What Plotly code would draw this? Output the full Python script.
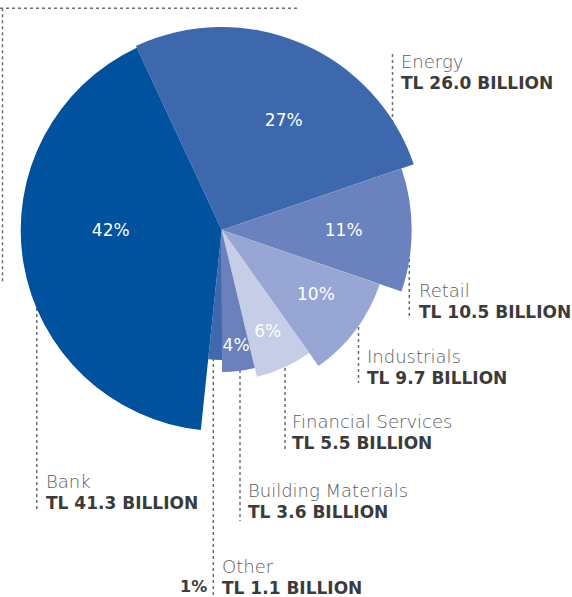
import plotly.graph_objects as go

# ---- data ----
sectors = ["Energy", "Retail", "Industrials", "Financial Services",
           "Building Materials", "Other", "Bank"]
amounts_tl_bn = [26.0, 10.5, 9.7, 5.5, 3.6, 1.1, 41.3]
pct_labels = ["27%", "11%", "10%", "6%", "4%", "1%", "42%"]
slice_share = [26.7, 10.5, 9.9, 6.1, 3.7, 1.7, 41.4]      # angular share (%)
slice_radius = [203, 190, 167, 151, 142, 130, 201]        # relative radius

colors = ["#3e68ae", "#6a82bd", "#97a6d3", "#c5cde7", "#6b81bc", "#3f68ad", "#00529f"]

W, H = 572, 597
CX, CY, R = 221.7, 230, 205
START = 335.0
FONT = "DejaVu Sans"

# slice geometry from shares
widths = [s / 100 * 360 for s in slice_share]
centers = []
acc = START
for w in widths:
    centers.append((acc + w / 2) % 360)
    acc += w

fig = go.Figure()
fig.add_trace(go.Barpolar(
    r=slice_radius, theta=centers, width=widths,
    marker=dict(color=colors, line=dict(width=0)),
    hoverinfo="skip", showlegend=False,
))

# percentage labels inside slices (index 5 'Other' is drawn outside)
lab_idx = [0, 1, 2, 3, 4, 6]
lab_r = [124.5, 122, 115, 113, 118, 111]
lab_t = [29.9, 91, 125, 156, 173, 269]
fig.add_trace(go.Scatterpolar(
    r=lab_r, theta=lab_t, mode="text",
    text=[pct_labels[i] for i in lab_idx],
    textfont=dict(family=FONT, size=17, color="white", weight=500),
    hoverinfo="skip", showlegend=False,
))

def px(x):
    return x / W

def py(y):
    return 1 - y / H

annotations = []
# label positions (pixel): x, y-center of name line
label_pos = {
    "Energy": (399, 61.5),
    "Retail": (417, 290),
    "Industrials": (365, 356),
    "Financial Services": (290, 421),
    "Building Materials": (246, 490),
    "Other": (220, 566),
    "Bank": (44, 481),
}
for name, amt in zip(sectors, amounts_tl_bn):
    x, y = label_pos[name]
    annotations.append(dict(
        x=px(x), y=py(y), xref="paper", yref="paper", xanchor="left", yanchor="middle",
        text=name, showarrow=False,
        font=dict(family=FONT, size=18, color="#5c5c5c", weight=200)))
    annotations.append(dict(
        x=px(x), y=py(y + 21.8), xref="paper", yref="paper", xanchor="left", yanchor="middle",
        text=f"TL {amt:.1f} BILLION", showarrow=False,
        font=dict(family=FONT, size=17, color="#3b3b3b", weight=700)))

annotations.append(dict(
    x=px(209), y=py(586.5), xref="paper", yref="paper", xanchor="right", yanchor="middle",
    text=pct_labels[5], showarrow=False,
    font=dict(family=FONT, size=16, color="#3b3b3b", weight=700)))

dot = dict(color="#6d6d6d", width=1.5, dash="dot")
lines = [
    (392.5, 54, 392.5, 122),     # Energy
    (409.3, 253, 409.3, 318),    # Retail
    (358.5, 327, 358.5, 383),    # Industrials
    (285, 368, 285, 452),        # Financial Services
    (240, 370, 240, 521),        # Building Materials
    (213.3, 358, 213.3, 597),    # Other
    (36.8, 308, 36.8, 511),      # Bank
    (0, 8.3, 297, 8.3),          # frame top
    (2.5, 8.3, 2.5, 283),        # frame left
]
shapes = [dict(type="line", xref="paper", yref="paper",
               x0=px(a), y0=py(b), x1=px(c), y1=py(d), line=dot, layer="below")
          for a, b, c, d in lines]

fig.update_layout(
    width=W, height=H, margin=dict(l=0, r=0, t=0, b=0),
    paper_bgcolor="white", plot_bgcolor="white",
    polar=dict(
        domain=dict(x=[(CX - R) / W, (CX + R) / W], y=[(H - CY - R) / H, (H - CY + R) / H]),
        bgcolor="rgba(0,0,0,0)",
        radialaxis=dict(range=[0, R], visible=False, showgrid=False),
        angularaxis=dict(direction="clockwise", rotation=90, showgrid=False,
                         showline=False, showticklabels=False, ticks=""),
        bargap=0,
    ),
    annotations=annotations, shapes=shapes,
)

fig.write_html("out.html")
